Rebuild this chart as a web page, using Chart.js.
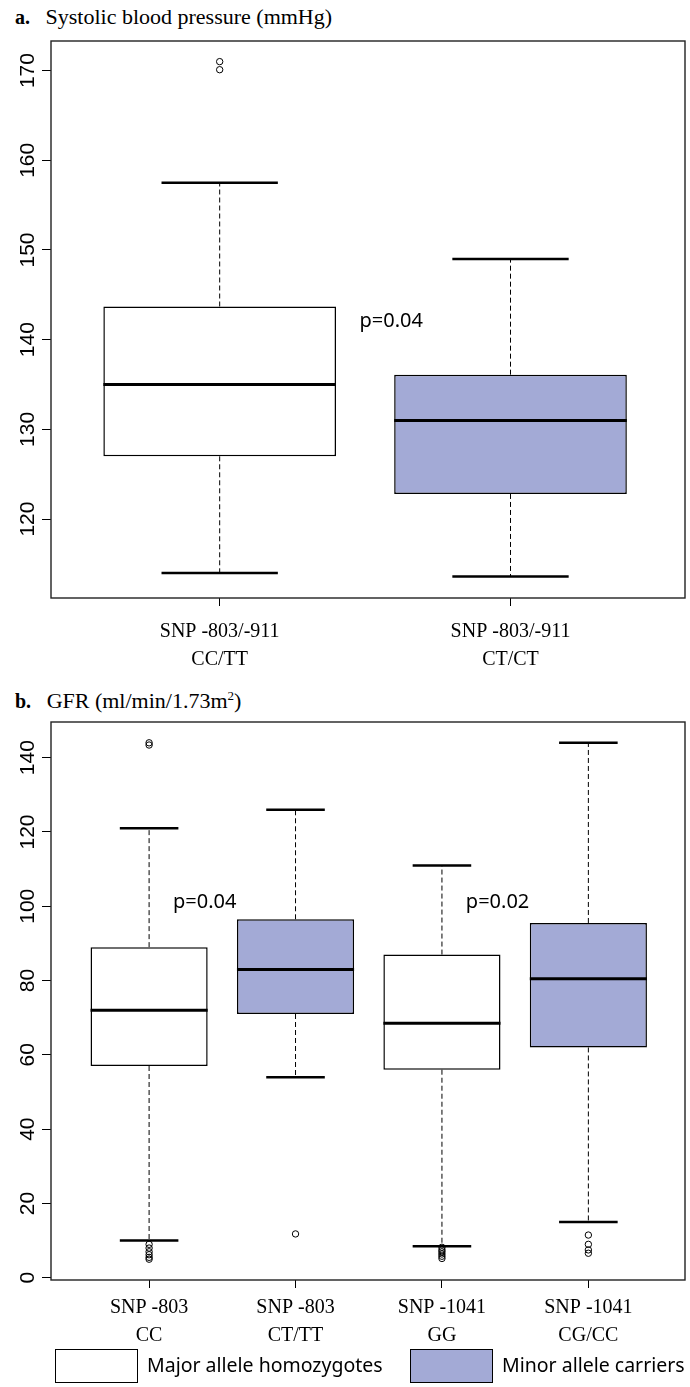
<!DOCTYPE html>
<html>
<head>
<meta charset="utf-8">
<script src="https://cdn.jsdelivr.net/npm/chart.js@4.4.1/dist/chart.umd.min.js"></script>
<style>
  body { margin: 0; background: #fff; width: 690px; height: 1387px; position: relative; overflow: hidden; }
  canvas { position: absolute; left: 0; }
  .ttl { position: absolute; font-family: "Liberation Serif", serif; font-size: 22px; color: #000; white-space: nowrap; }
  .ttl b { font-size: 20px; margin-right: 10px; }
  .leg { position: absolute; font-family: "Noto Sans", sans-serif; font-size: 19.5px; color: #000; white-space: nowrap; }
  .sw { position: absolute; border: 1.5px solid #000; box-sizing: border-box; }
</style>
</head>
<body>
<div class="ttl" style="left:15px;top:4px;"><b>a.</b> Systolic blood pressure (mmHg)</div>
<canvas id="chartA" width="690" height="680" style="top:0"></canvas>
<div class="ttl" style="left:15px;top:688px;"><b>b.</b> GFR (ml/min/1.73m<sup style="font-size:13px">2</sup>)</div>
<canvas id="chartB" width="690" height="670" style="top:680px"></canvas>

<div class="sw" style="left:55px;top:1349px;width:83px;height:34px;background:#fff"></div>
<div class="leg" style="left:147px;top:1351px;">Major allele homozygotes</div>
<div class="sw" style="left:410px;top:1349px;width:83px;height:34px;background:#a3aad6"></div>
<div class="leg" style="left:502px;top:1351px;">Minor allele carriers</div>

<script>
// panel a: systolic blood pressure
const catsA = [["SNP -803/-911", "CC/TT"], ["SNP -803/-911", "CT/CT"]];
const loA = [114.0, 113.6];
const q1A = [127.0, 122.8];
const medA = [135.0, 131.0];
const q3A = [143.7, 136.1];
const hiA = [157.5, 149.0];
const outA = [[170.1, 171.0], []];
const ticksA = [120, 130, 140, 150, 160, 170];

// panel b: GFR
const catsB = [["SNP -803", "CC"], ["SNP -803", "CT/TT"], ["SNP -1041", "GG"], ["SNP -1041", "CG/CC"]];
const loB = [10, 54, 8.5, 15];
const q1B = [57, 71, 56, 62];
const medB = [72, 83, 68.5, 80.5];
const q3B = [89, 96.5, 87, 95.5];
const hiB = [121, 126, 111, 144];
const outB = [[143.4, 144.0, 9, 8, 7, 6.2, 5.5, 5], [11.8], [8.2, 7.5, 7, 6.4, 5.8, 5.2], [11.5, 9, 7.5, 6.6]];
const ticksB = [0, 20, 40, 60, 80, 100, 120, 140];

const groupA = ["major", "minor"];
const groupB = ["major", "minor", "major", "minor"];
const fillFor = { major: "#ffffff", minor: "#a3aad6" };

// whiskers, caps, medians, frame, rotated y labels
const boxExtras = {
  id: "boxExtras",
  afterDatasetsDraw(chart, args, opts) {
    const ctx = chart.ctx;
    const x = chart.scales.x, y = chart.scales.y;
    const bars = chart.getDatasetMeta(0).data;
    ctx.save();
    opts.lo.forEach((lo, i) => {
      const xc = x.getPixelForValue(i);
      const w = bars[i].width;
      // dashed whiskers
      ctx.strokeStyle = "#000";
      ctx.lineWidth = 1;
      ctx.setLineDash([5, 3]);
      ctx.beginPath();
      ctx.moveTo(xc, y.getPixelForValue(opts.q3[i]));
      ctx.lineTo(xc, y.getPixelForValue(opts.hi[i]));
      ctx.moveTo(xc, y.getPixelForValue(opts.q1[i]));
      ctx.lineTo(xc, y.getPixelForValue(lo));
      ctx.stroke();
      ctx.setLineDash([]);
      // caps
      ctx.lineWidth = 2.5;
      ctx.beginPath();
      [lo, opts.hi[i]].forEach(v => {
        const py = y.getPixelForValue(v);
        ctx.moveTo(xc - w / 4, py);
        ctx.lineTo(xc + w / 4, py);
      });
      ctx.stroke();
      // median
      ctx.lineWidth = 3;
      ctx.beginPath();
      const pm = y.getPixelForValue(opts.med[i]);
      ctx.moveTo(xc - w / 2, pm);
      ctx.lineTo(xc + w / 2, pm);
      ctx.stroke();
    });
    // p values
    ctx.font = "20px 'Noto Sans', sans-serif";
    ctx.fillStyle = "#000";
    ctx.textAlign = "center";
    ctx.textBaseline = "middle";
    opts.pLabels.forEach(p => {
      ctx.fillText(p.text, x.getPixelForValue(p.x), y.getPixelForValue(p.y));
    });
    ctx.restore();
  },
  afterDraw(chart) {
    const ctx = chart.ctx, a = chart.chartArea, y = chart.scales.y;
    ctx.save();
    ctx.strokeStyle = "#222";
    ctx.lineWidth = 1.4;
    ctx.strokeRect(a.left, a.top, a.right - a.left, a.bottom - a.top);
    ctx.font = "21px 'Liberation Sans', Arial, sans-serif";
    ctx.fillStyle = "#000";
    ctx.textAlign = "center";
    ctx.textBaseline = "alphabetic";
    y.ticks.forEach(t => {
      ctx.save();
      ctx.translate(34, y.getPixelForValue(t.value));
      ctx.rotate(-Math.PI / 2);
      ctx.fillText(String(t.value), 0, 0);
      ctx.restore();
    });
    ctx.restore();
  }
};

function makeBox(id, cats, lo, q1, med, q3, hi, outs, groups, tickVals, yMin, yMax, xMin, xMax, padTop, axisH, labelPad, pLabels) {
  const outPts = [];
  outs.forEach((list, i) => list.forEach(v => outPts.push({ x: i, y: v })));
  new Chart(document.getElementById(id), {
    type: "bar",
    data: {
      datasets: [
        {
          data: q1.map((v, i) => ({ x: i, y: [v, q3[i]] })),
          backgroundColor: groups.map(g => fillFor[g]),
          borderColor: "#000",
          borderWidth: 1.5,
          borderSkipped: false,
          barPercentage: 0.8,
          categoryPercentage: 1.0
        },
        {
          type: "scatter",
          data: outPts,
          pointStyle: "circle",
          pointRadius: 3.2,
          pointBorderWidth: 1,
          pointBorderColor: "#000",
          pointBackgroundColor: "rgba(0,0,0,0)"
        }
      ]
    },
    options: {
      responsive: false,
      animation: false,
      events: [],
      layout: { padding: { top: padTop, right: 3, left: 0, bottom: 0 } },
      plugins: {
        legend: { display: false },
        tooltip: { enabled: false },
        boxExtras: { lo, q1, med, q3, hi, pLabels }
      },
      scales: {
        x: {
          type: "linear",
          min: xMin,
          max: xMax,
          offset: false,
          afterBuildTicks: s => { s.ticks = cats.map((c, i) => ({ value: i })); },
          afterFit: s => { s.height = axisH; },
          grid: { display: true, offset: false, drawOnChartArea: false, drawTicks: true, tickLength: 8, color: "#000", lineWidth: 1 },
          border: { display: false },
          ticks: {
            autoSkip: false,
            maxRotation: 0,
            padding: labelPad,
            color: "#000",
            font: { family: "'Liberation Serif', serif", size: 20, lineHeight: 1.4 },
            callback: v => cats[v]
          }
        },
        y: {
          min: yMin,
          max: yMax,
          afterBuildTicks: s => { s.ticks = tickVals.map(v => ({ value: v })); },
          afterFit: s => { s.width = 51; },
          grid: { display: true, drawOnChartArea: false, drawTicks: true, tickLength: 9, color: "#000", lineWidth: 1 },
          border: { display: false },
          ticks: { display: false }
        }
      }
    },
    plugins: [boxExtras]
  });
}

makeBox("chartA", catsA, loA, q1A, medA, q3A, hiA, outA, groupA, ticksA,
  111.2, 173.3, -0.58, 1.6, 41, 82, 12, [{ text: "p=0.04", x: 0.59, y: 142.0 }]);
makeBox("chartB", catsB, loB, q1B, medB, q3B, hiB, outB, groupB, ticksB,
  -0.6, 149.6, -0.67, 3.66, 42, 70, 6, [{ text: "p=0.04", x: 0.38, y: 101 }, { text: "p=0.02", x: 2.38, y: 101 }]);
</script>
</body>
</html>
